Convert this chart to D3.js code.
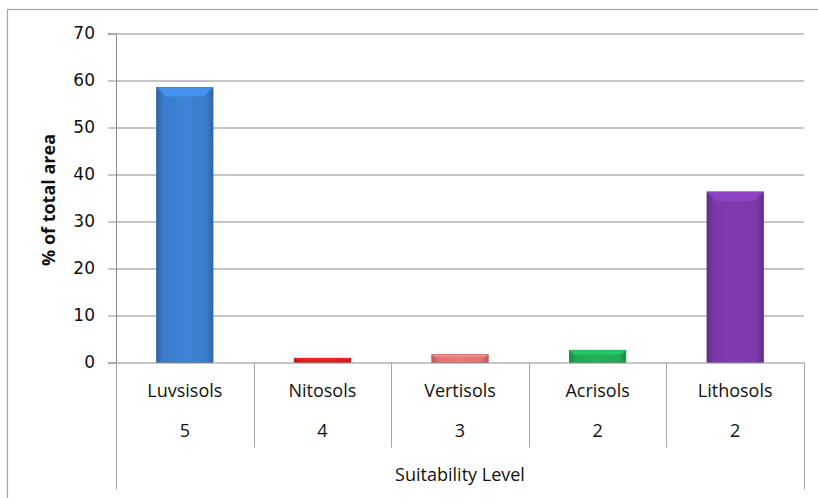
<!DOCTYPE html>
<html>
<head>
<meta charset="utf-8">
<script src="https://cdn.jsdelivr.net/npm/d3@7"></script>
<style>
  body { margin: 0; background: #fff; }
  text { font-family: "Open Sans", "DejaVu Sans", sans-serif; fill: #111; }
</style>
</head>
<body>
<div id="chart"></div>
<script>
// data
const soils = ['Luvsisols', 'Nitosols', 'Vertisols', 'Acrisols', 'Lithosols'];
const levels = ['5', '4', '3', '2', '2'];
const areaPct = [58.5, 0.9, 1.7, 2.6, 36.3];
const barColors = ['#3b7ccb', '#e31b1b', '#e07272', '#1faa55', '#7a39a9'];
const yTicks = [0, 10, 20, 30, 40, 50, 60, 70];

let buildChart = function() {
    let width = 818, height = 498;
    let margin = { top: 33.5, right: 14, bottom: 135.5, left: 116 };
    let innerW = width - margin.left - margin.right;
    let innerH = height - margin.top - margin.bottom;

    let svg = d3.select('#chart').append('svg')
        .attr('width', width)
        .attr('height', height);

    // outer frame (only top and left show in the picture)
    svg.append('rect')
        .attr('x', 7.5).attr('y', 9.5)
        .attr('width', 830).attr('height', 520)
        .attr('fill', 'none').attr('stroke', '#a6a6a6').attr('stroke-width', 1.2);

    let defs = svg.append('defs');
    barColors.forEach(function(c, i) {
        let g = defs.append('linearGradient').attr('id', 'grad' + i)
            .attr('x1', 0).attr('x2', 1).attr('y1', 0).attr('y2', 0);
        let dark = d3.color(c).darker(0.6);
        let light = d3.color(c).brighter(0.15);
        g.append('stop').attr('offset', '0%').attr('stop-color', dark);
        g.append('stop').attr('offset', '12%').attr('stop-color', c);
        g.append('stop').attr('offset', '50%').attr('stop-color', light);
        g.append('stop').attr('offset', '88%').attr('stop-color', c);
        g.append('stop').attr('offset', '100%').attr('stop-color', dark);
    });

    let chart = svg.append('g')
        .attr('transform', 'translate(' + margin.left + ',' + margin.top + ')');

    let x = d3.scaleBand().domain(soils).range([0, innerW]).paddingInner(0).paddingOuter(0);
    let y = d3.scaleLinear().domain([0, 70]).range([innerH, 0]);

    // gridlines
    chart.selectAll('.grid').data(yTicks.slice(1)).enter().append('line')
        .attr('x1', 0).attr('x2', innerW)
        .attr('y1', d => Math.round(y(d)) + 0.5).attr('y2', d => Math.round(y(d)) + 0.5)
        .attr('stroke', '#8c8c8c').attr('stroke-width', 1);

    // y axis
    let yAxis = d3.axisLeft(y).tickValues(yTicks).tickSize(8).tickPadding(13);
    let yg = chart.append('g').call(yAxis);
    yg.select('.domain').attr('stroke', '#8c8c8c');
    yg.selectAll('.tick line').attr('stroke', '#8c8c8c');
    yg.selectAll('.tick text').attr('font-size', 17)
        .style('font-family', '"DejaVu Sans", sans-serif').style('fill', '#111');

    svg.append('text')
        .attr('transform', 'translate(50,' + (margin.top + innerH / 2 + 2) + ') rotate(-90)')
        .attr('text-anchor', 'middle')
        .attr('dominant-baseline', 'middle')
        .attr('font-size', 18).attr('font-weight', 'bold')
        .text('% of total area');

    // bars
    let bw = x.bandwidth() * 0.41;
    let bars = chart.selectAll('.bar').data(soils).enter().append('g');
    bars.append('rect')
        .attr('x', d => x(d) + (x.bandwidth() - bw) / 2)
        .attr('y', (d, i) => y(areaPct[i]))
        .attr('width', bw)
        .attr('height', (d, i) => y(0) - y(areaPct[i]))
        .attr('fill', (d, i) => 'url(#grad' + i + ')')
        .attr('stroke', (d, i) => d3.color(barColors[i]).darker(0.5))
        .attr('stroke-width', 0.8);
    // bevelled top
    bars.append('polygon')
        .attr('points', function(d, i) {
            let x0 = x(d) + (x.bandwidth() - bw) / 2, x1 = x0 + bw;
            let t = y(areaPct[i]);
            let h = Math.min(9, (y(0) - t) * 0.35);
            return [[x0, t], [x1, t], [x1 - h, t + h], [x0 + h, t + h]].join(' ');
        })
        .attr('fill', (d, i) => d3.color(barColors[i]).brighter(0.5))
        .attr('opacity', 0.85);

    // category axis with dividers
    let axisG = chart.append('g').attr('transform', 'translate(0,' + innerH + ')');
    axisG.append('line')
        .attr('x1', 0).attr('x2', innerW).attr('y1', 0.5).attr('y2', 0.5)
        .attr('stroke', '#8c8c8c');
    let edges = soils.map(d => x(d)).concat([innerW]);
    axisG.selectAll('.div').data(edges).enter().append('line')
        .attr('x1', d => Math.round(d) + 0.5).attr('x2', d => Math.round(d) + 0.5)
        .attr('y1', 0)
        .attr('y2', (d, i) => (i === 0 || i === edges.length - 1) ? 127 : 85)
        .attr('stroke', '#a6a6a6');

    axisG.selectAll('.cat').data(soils).enter().append('text')
        .attr('x', d => x(d) + x.bandwidth() / 2)
        .attr('y', 30).attr('dominant-baseline', 'middle')
        .attr('text-anchor', 'middle').attr('font-size', 18)
        .text(d => d);
    axisG.selectAll('.lvl').data(levels).enter().append('text')
        .attr('x', (d, i) => x(soils[i]) + x.bandwidth() / 2)
        .attr('y', 70).attr('dominant-baseline', 'middle')
        .attr('text-anchor', 'middle').attr('font-size', 18)
        .text(d => d);
    axisG.append('text')
        .attr('x', innerW / 2).attr('y', 114)
        .attr('dominant-baseline', 'middle')
        .attr('text-anchor', 'middle').attr('font-size', 18)
        .text('Suitability Level');
}

buildChart();
</script>
</body>
</html>
